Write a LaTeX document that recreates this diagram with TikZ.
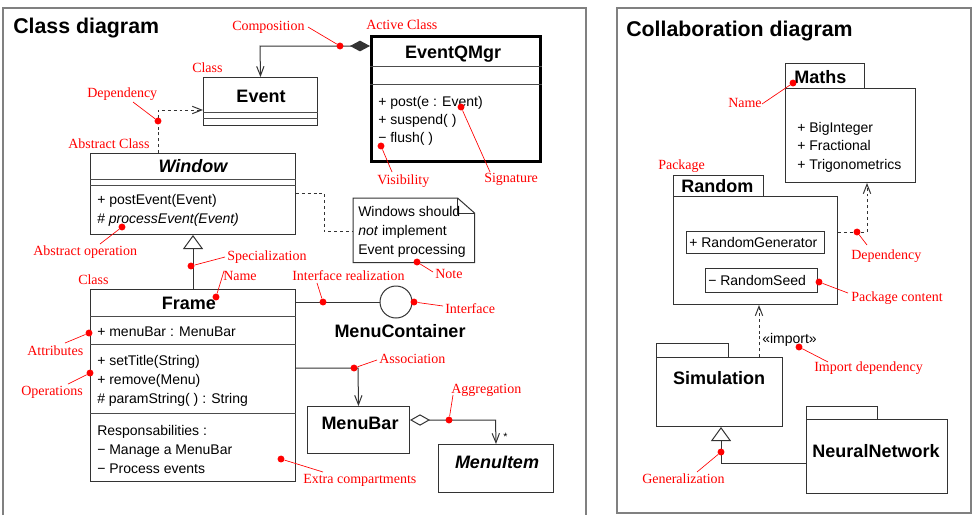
\documentclass[tikz,border=0pt]{standalone}
\usepackage{fontspec}
\setmainfont{Liberation Sans}
\newfontfamily\lblfont{Liberation Serif}
\usetikzlibrary{arrows.meta,calc}
\tikzset{
  panel/.style={draw=black!50, line width=1.1pt},
  cls/.style={draw=black!80, line width=0.75pt, inner sep=0pt, anchor=north west, rectangle},
  wh/.style 2 args={minimum width=#1*0.75pt, minimum height=#2*0.75pt},
  sepline/.style={draw=black!70, line width=0.75pt},
  txt/.style={font=\fontsize{10.5pt}{13.9pt}\selectfont, inner sep=0pt, anchor=base west},
  ttl/.style={font=\bfseries\fontsize{13.5pt}{16pt}\selectfont, inner sep=0pt, anchor=base},
  ttlit/.style={font=\bfseries\itshape\fontsize{13.5pt}{16pt}\selectfont, inner sep=0pt, anchor=base},
  head/.style={font=\bfseries\fontsize{16pt}{19pt}\selectfont, inner sep=0pt, anchor=base west},
  lbl/.style={font=\lblfont\fontsize{10.5pt}{12pt}\selectfont, text=red, inner sep=0pt, anchor=base west},
  rdot/.style={circle, fill=red, inner sep=0pt, minimum size=5.2pt},
  lead/.style={draw=red, line width=0.5pt},
  conn/.style={draw=black!80, line width=0.75pt},
  dep/.style={conn, dash pattern=on 2.2pt off 2.2pt},
  vtip/.tip={Straight Barb[length=7pt,width=5.5pt,line width=0.75pt]},
  gtip/.tip={Triangle[open,length=10.5pt,width=15pt,line width=0.75pt]},
}
\begin{document}
\begin{tikzpicture}[x=0.75pt,y=-0.75pt]
\useasboundingbox (0,0) rectangle (974,515);
% panels
\draw[panel] (3,515) -- (3,8) -- (586,8) -- (586,515);
\draw[panel] (617,8) rectangle (971,513);
\node[head] (h1) at (13,33) {Class diagram};
\node[head] (h2) at (626,36) {Collaboration diagram};

% ---------- class boxes ----------
\node[cls, wh={114}{48}] (event) at (203,77) {};
\draw[sepline] ($(event.north west)+(0,35)$) -- ($(event.north east)+(0,35)$);
\draw[sepline] ($(event.north west)+(0,41)$) -- ($(event.north east)+(0,41)$);
\node[ttl] (evtitle) at (261,102) {Event};

\node[cls, wh={169}{125}, line width=2.2pt, draw=black] (eqm) at (370,35) {};
\draw[sepline] ($(eqm.north west)+(0,31)$) -- ($(eqm.north east)+(0,31)$);
\draw[sepline] ($(eqm.north west)+(0,49)$) -- ($(eqm.north east)+(0,49)$);
\node[ttl] (eqmtitle) at (453,58) {EventQMgr};
\node[txt] (eqm1) at (378,106) {+ post(e : Event)};
\node[txt] (eqm2) at (378,124) {+ suspend( )};
\node[txt] (eqm3) at (378,142) {− flush( )};

\node[cls, wh={205}{81}] (window) at (90,153) {};
\draw[sepline] ($(window.north west)+(0,26)$) -- ($(window.north east)+(0,26)$);
\draw[sepline] ($(window.north west)+(0,32)$) -- ($(window.north east)+(0,32)$);
\node[ttlit] (wintitle) at (193,172) {Window};
\node[txt] (win1) at (97,204) {+ postEvent(Event)};
\node[txt] (win2) at (97,223) {\# \textit{processEvent(Event)}};

\node[cls, wh={205}{192}] (frame) at (90,289) {};
\draw[sepline] ($(frame.north west)+(0,27)$) -- ($(frame.north east)+(0,27)$);
\draw[sepline] ($(frame.north west)+(0,55)$) -- ($(frame.north east)+(0,55)$);
\draw[sepline] ($(frame.north west)+(0,124)$) -- ($(frame.north east)+(0,124)$);
\node[ttl] (frtitle) at (189,309) {Frame};
\node[txt] (fr1) at (97,336) {+ menuBar : MenuBar};
\node[txt] (fr2) at (97,365) {+ setTitle(String)};
\node[txt] (fr3) at (97,384) {+ remove(Menu)};
\node[txt] (fr4) at (97,403) {\# paramString( ) : String};
\node[txt] (fr5) at (97,435) {Responsabilities :};
\node[txt] (fr6) at (97,454) {− Manage a MenuBar};
\node[txt] (fr7) at (97,473) {− Process events};

% note
\node[inner sep=0pt, anchor=north west, wh={121}{64}] (note) at (353,198) {};
\draw[conn] (note.north west) -- (note.south west) -- (note.south east)
  -- ($(note.north east)+(0,15)$) -- ($(note.north east)+(-17,0)$) -- cycle;
\draw[conn] ($(note.north east)+(-17,0)$) -- ($(note.north east)+(-17,15)$) -- ($(note.north east)+(0,15)$);
\node[txt] (note1) at (358,216) {Windows should};
\node[txt] (note2) at (358,235) {\textit{not} implement};
\node[txt] (note3) at (358,254) {Event processing};

% interface
\node[circle, draw=black!80, line width=0.75pt, minimum size=24pt, inner sep=0pt] (iface) at (396,302) {};
\node[ttl] (mctitle) at (400,337) {MenuContainer};

\node[cls, wh={102}{47}] (menubar) at (307,406) {};
\node[ttl] (mbtitle) at (360,429) {MenuBar};
\node[cls, wh={115}{48}] (menuitem) at (438,444) {};
\node[ttlit] (mititle) at (497,468) {MenuItem};
\node[font=\fontsize{8pt}{9pt}\selectfont, inner sep=0pt, anchor=base west] (star) at (503,440) {*};

% ---------- packages ----------
\node[cls, wh={79}{25}] (mathstab) at (785,63) {};
\node[cls, wh={130}{94}] (mathsbody) at (785,88) {};
\node[ttl, anchor=base west] (mathstitle) at (794,83) {Maths};
\node[txt] (m1) at (797,132) {+ BigInteger};
\node[txt] (m2) at (797,150) {+ Fractional};
\node[txt] (m3) at (797,169) {+ Trigonometrics};

\node[cls, wh={90}{21}] (randtab) at (673,175) {};
\node[cls, wh={164}{108}] (randbody) at (673,196) {};
\node[ttl, anchor=base west] (randtitle) at (681,192) {Random};
\node[cls, wh={138}{22}] (rgen) at (686,231) {};
\node[txt] (rgentext) at (689,247) {+ RandomGenerator};
\node[cls, wh={112}{24}] (rseed) at (705,268) {};
\node[txt] (rseedtext) at (708,285) {− RandomSeed};

\node[cls, wh={72}{14}] (simtab) at (656,343) {};
\node[cls, wh={126}{69}] (simbody) at (656,357) {};
\node[ttl] (simtitle) at (719,384) {Simulation};

\node[cls, wh={71}{13}] (nntab) at (806,406) {};
\node[cls, wh={141}{74}] (nnbody) at (806,419) {};
\node[ttl] (nntitle) at (876,457) {NeuralNetwork};

\node[txt] (imptext) at (762,343) {«import»};

% ---------- connectors ----------
\coordinate (compbend) at (260,46);
\draw[conn, {Diamond[length=15pt,width=8pt]}-vtip] (eqm.west |- compbend) -- (compbend) -- (event.north);
\coordinate (depbend) at (158,110);
\draw[dep, -vtip] (window.north -| depbend) -- (depbend) -- (event.west |- depbend);
\draw[conn, -gtip] (frame.north) -- (window.south);
\coordinate (nb1) at (324,193);
\coordinate (nb2) at (324,231);
\draw[dep] (window.east |- nb1) -- (nb1) -- (nb2) -- (note.west |- nb2);
\draw[conn] (frame.east |- iface.west) -- (iface.west);
\coordinate (asbend) at (358,368);
\draw[conn, -vtip] (frame.east |- asbend) -- (asbend) -- (menubar.north);
\coordinate (agbend) at (495.5,420);
\draw[conn, {Diamond[open,length=15pt,width=8.5pt,line width=0.75pt]}-vtip] (menubar.east |- agbend) -- (agbend) -- (menuitem.north);

\coordinate (rdbend) at (867,232);
\draw[dep, -vtip] (randbody.east |- rdbend) -- (rdbend) -- (mathsbody.south -| rdbend);
\coordinate (impx) at (759,330);
\draw[dep, -vtip] (simbody.north -| impx) -- (randbody.south -| impx);
\coordinate (genbend) at (721,463);
\draw[conn, -gtip] (nnbody.west |- genbend) -- (genbend) -- (simbody.south -| genbend);

% ---------- red labels ----------
\node[lbl] (lcomp) at (232,30) {Composition};
\node[lbl] (lactive) at (366,29) {Active Class};
\node[lbl] (lclass1) at (192,72) {Class};
\node[lbl] (ldep) at (87,97) {Dependency};
\node[lbl] (labscls) at (68,148) {Abstract Class};
\node[lbl] (labsop) at (33,255) {Abstract operation};
\node[lbl] (lspec) at (227,260) {Specialization};
\node[lbl] (lclass2) at (78,284) {Class};
\node[lbl] (lname) at (223,280) {Name};
\node[lbl] (lireal) at (292,280) {Interface realization};
\node[lbl] (liface) at (445,313) {Interface};
\node[lbl] (lnote) at (435,278) {Note};
\node[lbl] (lvis) at (377,184) {Visibility};
\node[lbl] (lsig) at (484,182) {Signature};
\node[lbl] (lattr) at (27,355) {Attributes};
\node[lbl] (lops) at (21,395) {Operations};
\node[lbl] (lextra) at (303,483) {Extra compartments};
\node[lbl] (lassoc) at (379,363) {Association};
\node[lbl] (lagg) at (451,393) {Aggregation};
\node[lbl] (lname2) at (728,107) {Name};
\node[lbl] (lpkg) at (658,169) {Package};
\node[lbl] (lrdep) at (851,259) {Dependency};
\node[lbl] (lpkgc) at (851,301) {Package content};
\node[lbl] (limp) at (814,371) {Import dependency};
\node[lbl] (lgen) at (642,483) {Generalization};

% leader start points
\coordinate (ccomp) at (308,27);
\coordinate (cdep) at (133,102);
\coordinate (cabsop) at (100,244);
\coordinate (cspec) at (225,257);
\coordinate (cname) at (224,271);
\coordinate (cattr) at (65,343);
\coordinate (cops) at (68,384);
\coordinate (cextra) at (323,472);
\coordinate (cireal) at (317,283);
\coordinate (ciface) at (443,306);
\coordinate (cnote) at (433,272);
\coordinate (cvis) at (392,172);
\coordinate (csig) at (490,172);
\coordinate (cassoc) at (377,360);
\coordinate (cagg) at (453,395);
\coordinate (cname2) at (762,104);
\coordinate (crdep) at (867,245);
\coordinate (cpkgc) at (848,293);
\coordinate (cimp) at (828,362);
\coordinate (cgen) at (697,472);

% dots
\node[rdot] (dcomp) at (340,46) {};
\node[rdot] (ddep) at (158,121) {};
\node[rdot] (dabsop) at (122,227) {};
\node[rdot] (dspec) at (191,266) {};
\node[rdot] (dname) at (216,297) {};
\node[rdot] (dattr) at (89,333) {};
\node[rdot] (dops) at (90,373) {};
\node[rdot] (dextra) at (281,459) {};
\node[rdot] (direal) at (323,302) {};
\node[rdot] (diface) at (414,302) {};
\node[rdot] (dnote) at (417,262) {};
\node[rdot] (dvis) at (381,146) {};
\node[rdot] (dsig) at (461,107) {};
\node[rdot] (dassoc) at (354,368) {};
\node[rdot] (dagg) at (449,420) {};
\node[rdot] (dname2) at (793,83) {};
\node[rdot] (drdep) at (857,232) {};
\node[rdot] (dpkg) at (819,282) {};
\node[rdot] (dimp) at (799,347) {};
\node[rdot] (dgen) at (721,452) {};

\draw[lead] (ccomp) -- (dcomp);
\draw[lead] (cdep) -- (ddep);
\draw[lead] (cabsop) -- (dabsop);
\draw[lead] (cspec) -- (dspec);
\draw[lead] (cname) -- (dname);
\draw[lead] (cattr) -- (dattr);
\draw[lead] (cops) -- (dops);
\draw[lead] (dextra) -- (cextra);
\draw[lead] (cireal) -- (direal);
\draw[lead] (diface) -- (ciface);
\draw[lead] (dnote) -- (cnote);
\draw[lead] (dvis) -- (cvis);
\draw[lead] (dsig) -- (csig);
\draw[lead] (cassoc) -- (dassoc);
\draw[lead] (cagg) -- (dagg);
\draw[lead] (cname2) -- (dname2);
\draw[lead] (drdep) -- (crdep);
\draw[lead] (dpkg) -- (cpkgc);
\draw[lead] (dimp) -- (cimp);
\draw[lead] (cgen) -- (dgen);
\end{tikzpicture}
\end{document}
